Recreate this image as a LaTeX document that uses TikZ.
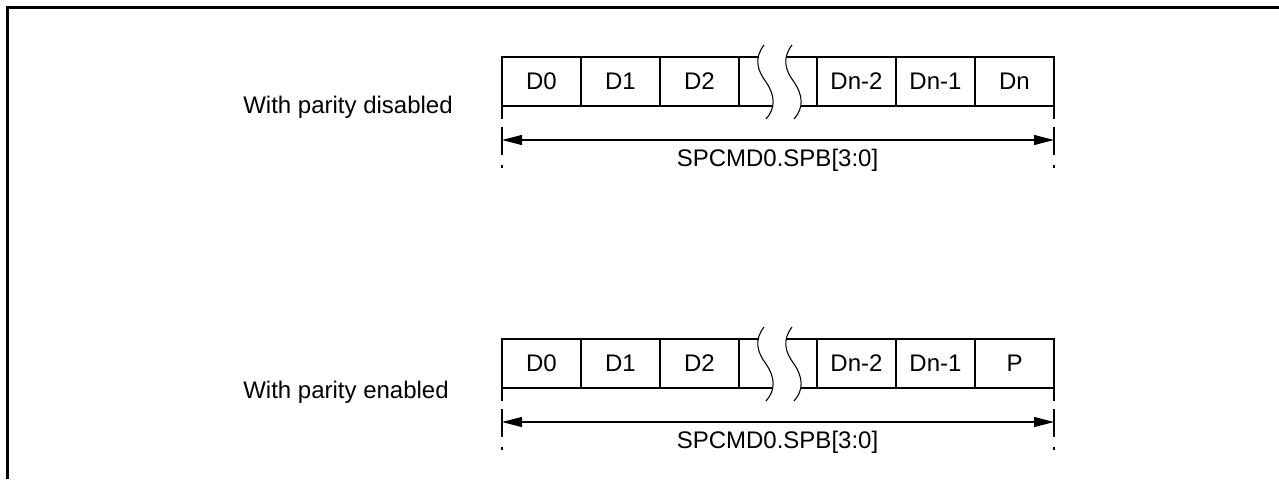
\documentclass[tikz,border=0pt]{standalone}
\usepackage{fontspec}
\setmainfont{Liberation Sans}
\usetikzlibrary{arrows.meta}
\tikzset{
  cell/.style={draw, line width=2pt, minimum width=59.25pt, minimum height=36.75pt,
    inner sep=0pt, outer sep=0pt, font=\fontsize{18pt}{21pt}\selectfont},
  boxline/.style={line width=2pt},
  wave/.style={line width=0.8pt},
  guide/.style={line width=1.5pt, dash pattern=on 9.75pt off 6pt on 21pt off 7.5pt on 2.25pt off 100pt},
  dim/.style={line width=0.8pt, {Triangle[length=15pt,width=7.5pt]}-{Triangle[length=15pt,width=7.5pt]}},
  lbl/.style={font=\fontsize{18pt}{21pt}\selectfont, inner sep=0pt},
  frame/.style={line width=2.25pt}
}
\begin{document}
\begin{tikzpicture}[x=0.75pt,y=-0.75pt]
\useasboundingbox (0,0) rectangle (1279,479);
\draw[frame] (7.5,479) -- (7.5,7.5) -- (1279,7.5);
\foreach \r/\dy/\last/\txt/\base in {1/0/Dn/disabled/113, 2/282/P/enabled/398} {
  \node[lbl, anchor=base west] (t\r) at (243,\base) {With parity \txt};
  \begin{scope}[shift={(0,\dy)}]
    \node[cell] (c\r-0) at (541.5,81.5) {D0};
    \node[cell] (c\r-1) at (620.5,81.5) {D1};
    \node[cell] (c\r-2) at (699.5,81.5) {D2};
    \node[cell] (c\r-3) at (856.5,81.5) {Dn-2};
    \node[cell] (c\r-4) at (935.5,81.5) {Dn-1};
    \node[cell] (c\r-5) at (1014.5,81.5) {\last};
    % gap between D2 and Dn-2
    \coordinate (w\r-a) at (759,57);
    \coordinate (w\r-b) at (772.5,106);
    \coordinate (w\r-c) at (787,57);
    \coordinate (w\r-d) at (800.5,106);
    \draw[boxline] (c\r-2.north east) -- (w\r-a);
    \draw[boxline] (c\r-2.south east) -- (w\r-b);
    \draw[boxline] (w\r-c) -- (c\r-3.north west);
    \draw[boxline] (w\r-d) -- (c\r-3.south west);
    \draw[wave] (764,45) .. controls (754,58) and (757,70) .. (766,82)
                         .. controls (775,95) and (776,108) .. (766,119);
    \draw[wave] (792,45) .. controls (782,58) and (785,70) .. (794,82)
                         .. controls (803,95) and (804,108) .. (794,119);
    % extent guides and dimension arrow
    \coordinate (g\r-l) at (502,170);
    \coordinate (g\r-r) at (1054,170);
    \draw[guide] (c\r-0.south west) -- (g\r-l);
    \draw[guide] (c\r-5.south east) -- (g\r-r);
    \coordinate (a\r-l) at (502,140);
    \coordinate (a\r-r) at (1054,140);
    \draw[dim] (a\r-l) -- (a\r-r);
    \node[lbl, anchor=base] (s\r) at (777.5,166.5) {SPCMD0.SPB[3:0]};
  \end{scope}
}
\end{tikzpicture}
\end{document}
